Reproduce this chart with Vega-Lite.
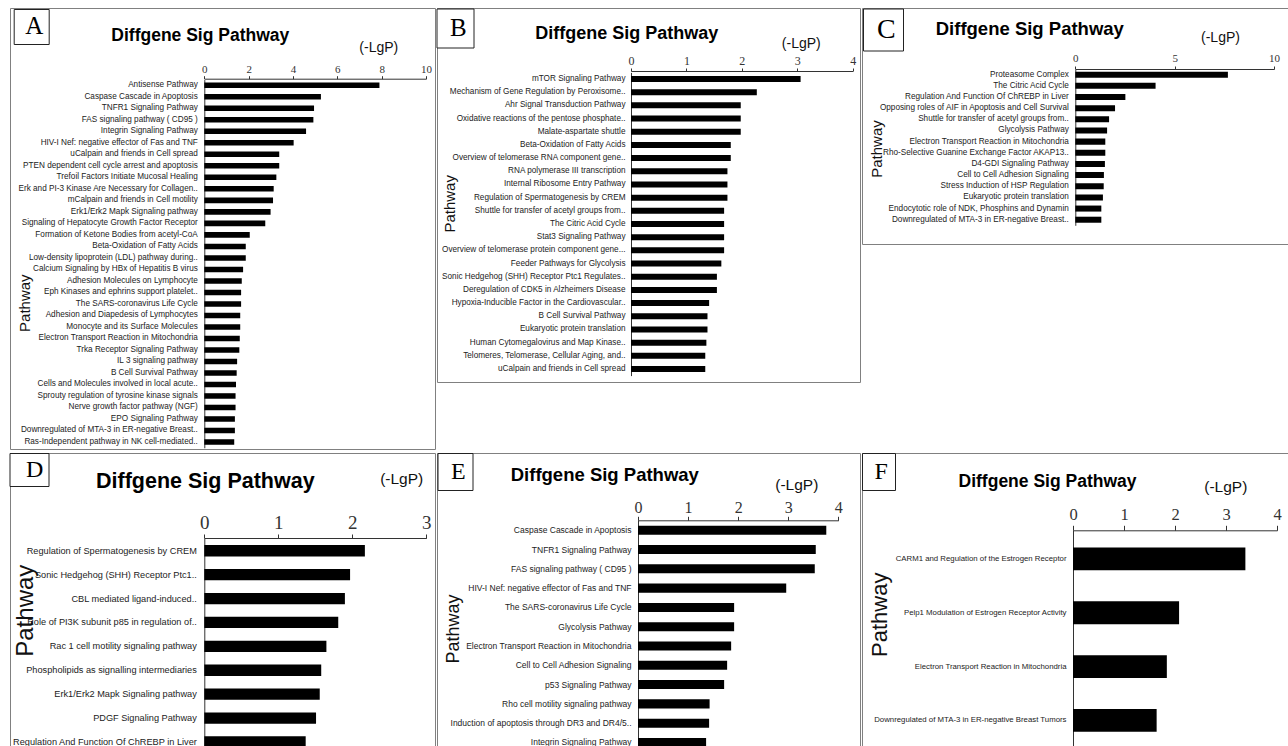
{
  "$schema": "https://vega.github.io/schema/vega-lite/v6.json",
  "background": "#ffffff",
  "padding": {"left": 8, "top": 7, "right": 0, "bottom": 0},
  "columns": 3,
  "spacing": {"row": 4, "column": 2},
  "bounds": "flush",
  "resolve": {"scale": {"color": "independent"}, "legend": {"color": "independent"}},
  "datasets": {
    "A": [
      {"pathway": "Antisense Pathway", "value": 7.9},
      {"pathway": "Caspase Cascade in Apoptosis", "value": 5.26},
      {"pathway": "TNFR1 Signaling Pathway", "value": 4.95},
      {"pathway": "FAS signaling pathway ( CD95 )", "value": 4.92},
      {"pathway": "Integrin Signaling Pathway", "value": 4.59},
      {"pathway": "HIV-I Nef: negative effector of Fas and TNF", "value": 4.03},
      {"pathway": "uCalpain and friends in Cell spread", "value": 3.38},
      {"pathway": "PTEN dependent cell cycle arrest and apoptosis", "value": 3.38},
      {"pathway": "Trefoil Factors Initiate Mucosal Healing", "value": 3.25},
      {"pathway": "Erk and PI-3 Kinase Are Necessary for Collagen..", "value": 3.13},
      {"pathway": "mCalpain and friends in Cell motility", "value": 3.1},
      {"pathway": "Erk1/Erk2 Mapk Signaling pathway", "value": 2.99},
      {"pathway": "Signaling of Hepatocyte Growth Factor Receptor", "value": 2.75},
      {"pathway": "Formation of Ketone Bodies from acetyl-CoA", "value": 2.05},
      {"pathway": "Beta-Oxidation of Fatty Acids", "value": 1.87},
      {"pathway": "Low-density lipoprotein (LDL) pathway during..", "value": 1.87},
      {"pathway": "Calcium Signaling by HBx of Hepatitis B virus", "value": 1.75},
      {"pathway": "Adhesion Molecules on Lymphocyte", "value": 1.69},
      {"pathway": "Eph Kinases and ephrins support platelet..", "value": 1.66},
      {"pathway": "The SARS-coronavirus Life Cycle", "value": 1.66},
      {"pathway": "Adhesion and Diapedesis of Lymphocytes", "value": 1.62},
      {"pathway": "Monocyte and its Surface Molecules", "value": 1.62},
      {"pathway": "Electron Transport Reaction in Mitochondria", "value": 1.6},
      {"pathway": "Trka Receptor Signaling Pathway", "value": 1.58},
      {"pathway": "IL 3 signaling pathway", "value": 1.48},
      {"pathway": "B Cell Survival Pathway", "value": 1.46},
      {"pathway": "Cells and Molecules involved in local acute..", "value": 1.43},
      {"pathway": "Sprouty regulation of tyrosine kinase signals", "value": 1.41},
      {"pathway": "Nerve growth factor pathway (NGF)", "value": 1.41},
      {"pathway": "EPO Signaling Pathway", "value": 1.38},
      {"pathway": "Downregulated of MTA-3 in ER-negative Breast..", "value": 1.38},
      {"pathway": "Ras-Independent pathway in NK cell-mediated..", "value": 1.35}
    ],
    "B": [
      {"pathway": "mTOR Signaling Pathway", "value": 3.06},
      {"pathway": "Mechanism of Gene Regulation by Peroxisome..", "value": 2.27},
      {"pathway": "Ahr Signal Transduction Pathway", "value": 1.98},
      {"pathway": "Oxidative reactions of the pentose phosphate..", "value": 1.98},
      {"pathway": "Malate-aspartate shuttle", "value": 1.98},
      {"pathway": "Beta-Oxidation of Fatty Acids", "value": 1.8},
      {"pathway": "Overview of telomerase RNA component gene..", "value": 1.8},
      {"pathway": "RNA polymerase III transcription", "value": 1.74},
      {"pathway": "Internal Ribosome Entry Pathway", "value": 1.74},
      {"pathway": "Regulation of Spermatogenesis by CREM", "value": 1.74},
      {"pathway": "Shuttle for transfer of acetyl groups from..", "value": 1.68},
      {"pathway": "The Citric Acid Cycle", "value": 1.68},
      {"pathway": "Stat3 Signaling Pathway", "value": 1.68},
      {"pathway": "Overview of telomerase protein component gene...", "value": 1.68},
      {"pathway": "Feeder Pathways for Glycolysis", "value": 1.63},
      {"pathway": "Sonic Hedgehog (SHH) Receptor Ptc1 Regulates..", "value": 1.55},
      {"pathway": "Deregulation of CDK5 in Alzheimers Disease", "value": 1.55},
      {"pathway": "Hypoxia-Inducible Factor in the Cardiovascular..", "value": 1.41},
      {"pathway": "B Cell Survival Pathway", "value": 1.38},
      {"pathway": "Eukaryotic protein translation", "value": 1.38},
      {"pathway": "Human Cytomegalovirus and Map Kinase..", "value": 1.36},
      {"pathway": "Telomeres, Telomerase, Cellular Aging, and..", "value": 1.34},
      {"pathway": "uCalpain and friends in Cell spread", "value": 1.34}
    ],
    "C": [
      {"pathway": "Proteasome Complex", "value": 7.68},
      {"pathway": "The Citric Acid Cycle", "value": 4.04},
      {"pathway": "Regulation And Function Of ChREBP in Liver", "value": 2.52},
      {"pathway": "Opposing roles of AIF in Apoptosis and Cell Survival", "value": 2.0},
      {"pathway": "Shuttle for transfer of acetyl groups from..", "value": 1.7},
      {"pathway": "Glycolysis Pathway", "value": 1.6},
      {"pathway": "Electron Transport Reaction in Mitochondria", "value": 1.51},
      {"pathway": "Rho-Selective Guanine Exchange Factor AKAP13..", "value": 1.51},
      {"pathway": "D4-GDI Signaling Pathway", "value": 1.49},
      {"pathway": "Cell to Cell Adhesion Signaling", "value": 1.44},
      {"pathway": "Stress Induction of HSP Regulation", "value": 1.43},
      {"pathway": "Eukaryotic protein translation", "value": 1.39},
      {"pathway": "Endocytotic role of NDK, Phosphins and Dynamin", "value": 1.31},
      {"pathway": "Downregulated of MTA-3 in ER-negative Breast..", "value": 1.31}
    ],
    "D": [
      {"pathway": "Regulation of Spermatogenesis by CREM", "value": 2.17},
      {"pathway": "Sonic Hedgehog (SHH) Receptor Ptc1..", "value": 1.97},
      {"pathway": "CBL mediated ligand-induced..", "value": 1.9},
      {"pathway": "Role of PI3K subunit p85 in regulation of..", "value": 1.81},
      {"pathway": "Rac 1 cell motility signaling pathway", "value": 1.65},
      {"pathway": "Phospholipids as signalling intermediaries", "value": 1.58},
      {"pathway": "Erk1/Erk2 Mapk Signaling pathway", "value": 1.56},
      {"pathway": "PDGF Signaling Pathway", "value": 1.51},
      {"pathway": "Regulation And Function Of ChREBP in Liver", "value": 1.37}
    ],
    "E": [
      {"pathway": "Caspase Cascade in Apoptosis", "value": 3.76},
      {"pathway": "TNFR1 Signaling Pathway", "value": 3.55},
      {"pathway": "FAS signaling pathway ( CD95 )", "value": 3.53},
      {"pathway": "HIV-I Nef: negative effector of Fas and TNF", "value": 2.96},
      {"pathway": "The SARS-coronavirus Life Cycle", "value": 1.92},
      {"pathway": "Glycolysis Pathway", "value": 1.92},
      {"pathway": "Electron Transport Reaction in Mitochondria", "value": 1.86},
      {"pathway": "Cell to Cell Adhesion Signaling", "value": 1.78},
      {"pathway": "p53 Signaling Pathway", "value": 1.72},
      {"pathway": "Rho cell motility signaling pathway", "value": 1.43},
      {"pathway": "Induction of apoptosis through DR3 and DR4/5..", "value": 1.42},
      {"pathway": "Integrin Signaling Pathway", "value": 1.36}
    ],
    "F": [
      {"pathway": "CARM1 and Regulation of the Estrogen Receptor", "value": 3.38},
      {"pathway": "Pelp1 Modulation of Estrogen Receptor Activity", "value": 2.08},
      {"pathway": "Electron Transport Reaction in Mitochondria", "value": 1.84},
      {"pathway": "Downregulated of MTA-3 in ER-negative Breast Tumors", "value": 1.64}
    ]
  },
  "concat": [
    {
      "width": 425, "height": 441,
      "data": {"name": "A"},
      "mark": {"type": "bar"},
      "title": {"text": "Diffgene Sig Pathway", "anchor": "middle", "frame": "group", "offset": 0, "baseline": "alphabetic", "dx": -22.2, "dy": 50, "font": "Liberation Sans", "fontSize": 17.5, "fontWeight": "bold", "color": "#000"},
      "encoding": {
        "y": {"field": "pathway", "type": "nominal", "sort": null,
          "scale": {"range": [71.55, 439.75], "paddingInner": 0.52, "paddingOuter": 0.26},
          "axis": {"orient": "left", "offset": -194.3, "ticks": false, "grid": false, "domainColor": "#333", "labelFont": "Liberation Sans", "labelFontSize": 8.2, "labelColor": "#222", "labelPadding": 7, "labelLimit": 400, "labelOverlap": false, "title": "Pathway", "titleFont": "Liberation Sans", "titleFontSize": 15, "titleFontWeight": "normal", "titleColor": "#111", "titleX": -179.8, "titleY": 294.7, "titleAngle": 270, "titleAlign": "center", "titleBaseline": "middle"}},
        "x": {"field": "value", "type": "quantitative",
          "scale": {"domain": [0, 10], "range": [194.3, 416], "nice": false},
          "axis": {"orient": "top", "offset": -70.7, "values": [0, 2, 4, 6, 8, 10], "grid": false, "tickSize": 3, "tickColor": "#333", "domainColor": "#333", "labelFont": "Liberation Serif", "labelFontSize": 11, "labelColor": "#333", "labelPadding": 1, "labelFlush": false, "title": "(-LgP)", "titleFont": "Liberation Sans", "titleFontSize": 14, "titleFontWeight": "normal", "titleColor": "#111", "titleX": 368.3, "titleY": -31, "titleAngle": 0, "titleAlign": "center", "titleBaseline": "middle"}},
        "color": {"datum": "A", "scale": {"range": ["#000000"]},
          "legend": {"orient": "none", "legendX": 3.7, "legendY": 1, "title": null, "strokeColor": "#222", "fillColor": "#ffffff", "padding": 4.5, "symbolSize": 0, "symbolOpacity": 0, "symbolStrokeWidth": 0, "labelOffset": -18, "labelFont": "Liberation Serif", "labelFontSize": 25, "labelColor": "#000"}}
      }
    },
    {
      "width": 423, "height": 374,
      "data": {"name": "B"},
      "mark": {"type": "bar"},
      "title": {"text": "Diffgene Sig Pathway", "anchor": "middle", "frame": "group", "offset": 0, "baseline": "alphabetic", "dx": -21.8, "dy": 48.6, "font": "Liberation Sans", "fontSize": 18, "fontWeight": "bold", "color": "#000"},
      "encoding": {
        "y": {"field": "pathway", "type": "nominal", "sort": null,
          "scale": {"range": [64.4, 367.6], "paddingInner": 0.545, "paddingOuter": 0.27},
          "axis": {"orient": "left", "offset": -194, "ticks": false, "grid": false, "domainColor": "#333", "labelFont": "Liberation Sans", "labelFontSize": 8.2, "labelColor": "#222", "labelPadding": 6, "labelLimit": 400, "labelOverlap": false, "title": "Pathway", "titleFont": "Liberation Sans", "titleFontSize": 15, "titleFontWeight": "normal", "titleColor": "#111", "titleX": -181.5, "titleY": 195.3, "titleAngle": 270, "titleAlign": "center", "titleBaseline": "middle"}},
        "x": {"field": "value", "type": "quantitative",
          "scale": {"domain": [0, 4], "range": [194, 415.7], "nice": false},
          "axis": {"orient": "top", "offset": -63, "values": [0, 1, 2, 3, 4], "grid": false, "tickSize": 3, "tickColor": "#333", "domainColor": "#333", "labelFont": "Liberation Serif", "labelFontSize": 12, "labelColor": "#333", "labelPadding": 1, "labelFlush": false, "title": "(-LgP)", "titleFont": "Liberation Sans", "titleFontSize": 14, "titleFontWeight": "normal", "titleColor": "#111", "titleX": 363.8, "titleY": -27.3, "titleAngle": 0, "titleAlign": "center", "titleBaseline": "middle"}},
        "color": {"datum": "B", "scale": {"range": ["#000000"]},
          "legend": {"orient": "none", "legendX": -0.5, "legendY": 0.5, "title": null, "strokeColor": "#222", "fillColor": "#ffffff", "padding": 6.5, "symbolSize": 0, "symbolOpacity": 0, "symbolStrokeWidth": 0, "labelOffset": -18, "labelFont": "Liberation Serif", "labelFontSize": 25, "labelColor": "#000"}}
      }
    },
    {
      "width": 426, "height": 236,
      "data": {"name": "C"},
      "mark": {"type": "bar"},
      "title": {"text": "Diffgene Sig Pathway", "anchor": "middle", "frame": "group", "offset": 0, "baseline": "alphabetic", "dx": -45.2, "dy": 45.3, "font": "Liberation Sans", "fontSize": 18.5, "fontWeight": "bold", "color": "#000"},
      "encoding": {
        "y": {"field": "pathway", "type": "nominal", "sort": null,
          "scale": {"range": [61.1, 217.3], "paddingInner": 0.46, "paddingOuter": 0.23},
          "axis": {"orient": "left", "offset": -213.3, "ticks": false, "grid": false, "domainColor": "#333", "labelFont": "Liberation Sans", "labelFontSize": 8.2, "labelColor": "#222", "labelPadding": 7, "labelLimit": 400, "labelOverlap": false, "title": "Pathway", "titleFont": "Liberation Sans", "titleFontSize": 15, "titleFontWeight": "normal", "titleColor": "#111", "titleX": -199.3, "titleY": 140.5, "titleAngle": 270, "titleAlign": "center", "titleBaseline": "middle"}},
        "x": {"field": "value", "type": "quantitative",
          "scale": {"domain": [0, 10], "range": [213.3, 412], "nice": false},
          "axis": {"orient": "top", "offset": -61, "values": [0, 5, 10], "grid": false, "tickSize": 3, "tickColor": "#333", "domainColor": "#333", "labelFont": "Liberation Serif", "labelFontSize": 11, "labelColor": "#333", "labelPadding": 3, "labelFlush": false, "title": "(-LgP)", "titleFont": "Liberation Sans", "titleFontSize": 14, "titleFontWeight": "normal", "titleColor": "#111", "titleX": 358, "titleY": -32, "titleAngle": 0, "titleAlign": "center", "titleBaseline": "middle"}},
        "color": {"datum": "C", "scale": {"range": ["#000000"]},
          "legend": {"orient": "none", "legendX": 1, "legendY": 0.5, "title": null, "strokeColor": "#222", "fillColor": "#ffffff", "padding": 7, "symbolSize": 0, "symbolOpacity": 0, "symbolStrokeWidth": 0, "labelOffset": -21, "labelFont": "Liberation Serif", "labelFontSize": 28, "labelColor": "#000"}}
      }
    },
    {
      "width": 425, "height": 300,
      "data": {"name": "D"},
      "mark": {"type": "bar"},
      "title": {"text": "Diffgene Sig Pathway", "anchor": "middle", "frame": "group", "offset": 0, "baseline": "alphabetic", "dx": -17.2, "dy": 57, "font": "Liberation Sans", "fontSize": 21.5, "fontWeight": "bold", "color": "#000"},
      "encoding": {
        "y": {"field": "pathway", "type": "nominal", "sort": null,
          "scale": {"range": [85, 294.6], "paddingInner": 0.527, "paddingOuter": 0.148, "align": 1},
          "axis": {"orient": "left", "offset": -194.3, "ticks": false, "grid": false, "domainColor": "#333", "labelFont": "Liberation Sans", "labelFontSize": 9.2, "labelColor": "#222", "labelPadding": 8, "labelLimit": 400, "labelOverlap": false, "title": "Pathway", "titleFont": "Liberation Sans", "titleFontSize": 24, "titleFontWeight": "normal", "titleColor": "#111", "titleX": -179, "titleY": 157.2, "titleAngle": 270, "titleAlign": "center", "titleBaseline": "middle"}},
        "x": {"field": "value", "type": "quantitative",
          "scale": {"domain": [0, 3], "range": [194.3, 416.3], "nice": false},
          "axis": {"orient": "top", "offset": -85, "values": [0, 1, 2, 3], "grid": false, "tickSize": 4, "tickColor": "#333", "domainColor": "#333", "labelFont": "Liberation Serif", "labelFontSize": 19, "labelColor": "#333", "labelPadding": 1.7, "labelFlush": false, "title": "(-LgP)", "titleFont": "Liberation Sans", "titleFontSize": 15.5, "titleFontWeight": "normal", "titleColor": "#111", "titleX": 391.2, "titleY": -59.5, "titleAngle": 0, "titleAlign": "center", "titleBaseline": "middle"}},
        "color": {"datum": "D", "scale": {"range": ["#000000"]},
          "legend": {"orient": "none", "legendX": -0.5, "legendY": 0, "title": null, "strokeColor": "#222", "fillColor": "#ffffff", "padding": 4.5, "symbolSize": 0, "symbolOpacity": 0, "symbolStrokeWidth": 0, "labelOffset": -12, "labelFont": "Liberation Serif", "labelFontSize": 24, "labelColor": "#000"}}
      }
    },
    {
      "width": 423, "height": 300,
      "data": {"name": "E"},
      "mark": {"type": "bar"},
      "title": {"text": "Diffgene Sig Pathway", "anchor": "middle", "frame": "group", "offset": 0, "baseline": "alphabetic", "dx": -43.7, "dy": 47.1, "font": "Liberation Sans", "fontSize": 18.5, "fontWeight": "bold", "color": "#000"},
      "encoding": {
        "y": {"field": "pathway", "type": "nominal", "sort": null,
          "scale": {"range": [67.3, 294], "paddingInner": 0.53, "paddingOuter": 0.14, "align": 1},
          "axis": {"orient": "left", "offset": -201, "ticks": false, "grid": false, "domainColor": "#333", "labelFont": "Liberation Sans", "labelFontSize": 8.5, "labelColor": "#222", "labelPadding": 7, "labelLimit": 400, "labelOverlap": false, "title": "Pathway", "titleFont": "Liberation Sans", "titleFontSize": 18, "titleFontWeight": "normal", "titleColor": "#111", "titleX": -184.8, "titleY": 175.5, "titleAngle": 270, "titleAlign": "center", "titleBaseline": "middle"}},
        "x": {"field": "value", "type": "quantitative",
          "scale": {"domain": [0, 4], "range": [201, 401.3], "nice": false},
          "axis": {"orient": "top", "offset": -67.3, "values": [0, 1, 2, 3, 4], "grid": false, "tickSize": 4, "tickColor": "#333", "domainColor": "#333", "labelFont": "Liberation Serif", "labelFontSize": 16, "labelColor": "#333", "labelPadding": 1.2, "labelFlush": false, "title": "(-LgP)", "titleFont": "Liberation Sans", "titleFontSize": 15.5, "titleFontWeight": "normal", "titleColor": "#111", "titleX": 359.3, "titleY": -35.5, "titleAngle": 0, "titleAlign": "center", "titleBaseline": "middle"}},
        "color": {"datum": "E", "scale": {"range": ["#000000"]},
          "legend": {"orient": "none", "legendX": 0.5, "legendY": 0, "title": null, "strokeColor": "#222", "fillColor": "#ffffff", "padding": 6.5, "symbolSize": 0, "symbolOpacity": 0, "symbolStrokeWidth": 0, "labelOffset": -17, "labelFont": "Liberation Serif", "labelFontSize": 24, "labelColor": "#000"}}
      }
    },
    {
      "width": 426, "height": 300,
      "data": {"name": "F"},
      "mark": {"type": "bar"},
      "title": {"text": "Diffgene Sig Pathway", "anchor": "middle", "frame": "group", "offset": 0, "baseline": "alphabetic", "dx": -27.5, "dy": 52, "font": "Liberation Sans", "fontSize": 17.5, "fontWeight": "bold", "color": "#000"},
      "encoding": {
        "y": {"field": "pathway", "type": "nominal", "sort": null,
          "scale": {"range": [77.3, 294], "paddingInner": 0.577, "paddingOuter": 0.3, "align": 0.532},
          "axis": {"orient": "left", "offset": -211, "ticks": false, "grid": false, "domainColor": "#333", "labelFont": "Liberation Sans", "labelFontSize": 7.8, "labelColor": "#222", "labelPadding": 7, "labelLimit": 400, "labelOverlap": false, "title": "Pathway", "titleFont": "Liberation Sans", "titleFontSize": 22, "titleFontWeight": "normal", "titleColor": "#111", "titleX": -193.5, "titleY": 161.3, "titleAngle": 270, "titleAlign": "center", "titleBaseline": "middle"}},
        "x": {"field": "value", "type": "quantitative",
          "scale": {"domain": [0, 4], "range": [211, 415], "nice": false},
          "axis": {"orient": "top", "offset": -77.3, "values": [0, 1, 2, 3, 4], "grid": false, "tickSize": 5, "tickColor": "#333", "domainColor": "#333", "labelFont": "Liberation Serif", "labelFontSize": 16.5, "labelColor": "#333", "labelPadding": 2.5, "labelFlush": false, "title": "(-LgP)", "titleFont": "Liberation Sans", "titleFontSize": 15.5, "titleFontWeight": "normal", "titleColor": "#111", "titleX": 363.3, "titleY": -43.5, "titleAngle": 0, "titleAlign": "center", "titleBaseline": "middle"}},
        "color": {"datum": "F", "scale": {"range": ["#000000"]},
          "legend": {"orient": "none", "legendX": 0, "legendY": 0, "title": null, "strokeColor": "#222", "fillColor": "#ffffff", "padding": 6.5, "symbolSize": 0, "symbolOpacity": 0, "symbolStrokeWidth": 0, "labelOffset": -18, "labelFont": "Liberation Serif", "labelFontSize": 24, "labelColor": "#000"}}
      }
    }
  ],
  "config": {
    "view": {"stroke": "#808080", "strokeWidth": 1},
    "font": "Liberation Sans"
  }
}
